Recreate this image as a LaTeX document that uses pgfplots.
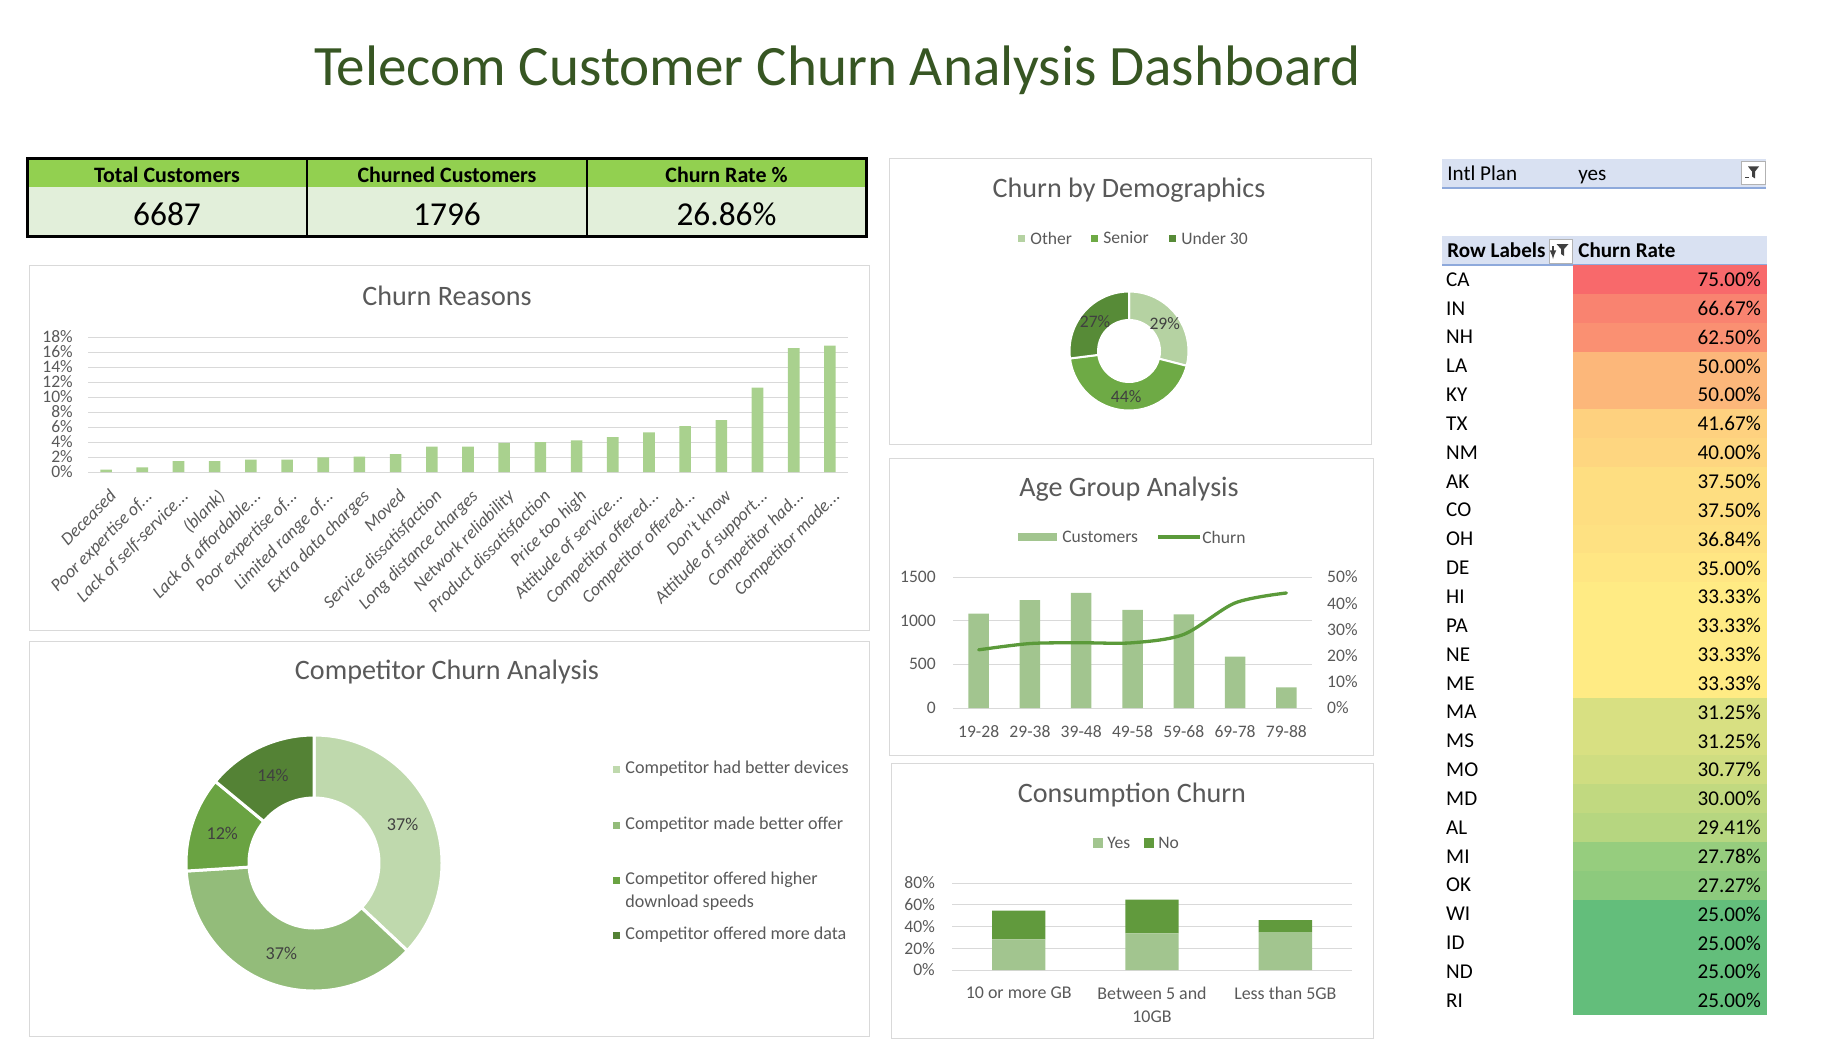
\documentclass[border=0pt]{standalone}
\usepackage{fontspec}
\setmainfont{Carlito}
\usepackage{pgfplots}
\usepackage{pgfplotstable}
\pgfplotsset{compat=1.18}
\pgfplotsset{/pgf/number format/assume math mode=true}

\newcommand{\fs}[1]{\fontsize{#1}{#1}\selectfont}
\newcommand{\dd}{.\kern0.02em.\kern0.02em.}

\definecolor{titlegreen}{HTML}{375623}
\definecolor{hdrgreen}{HTML}{92D050}
\definecolor{valgreen}{HTML}{E2EFDA}
\definecolor{panelborder}{HTML}{D9D9D9}
\definecolor{gridgray}{HTML}{D9D9D9}
\definecolor{txtgray}{HTML}{595959}
\definecolor{lblgray}{HTML}{404040}
\definecolor{barlight}{HTML}{A9D18E}
\definecolor{agebar}{HTML}{A2C58F}
\definecolor{ageline}{HTML}{5B9A3A}
\definecolor{consyes}{HTML}{A2C58F}
\definecolor{consno}{HTML}{619A3D}
\definecolor{compA}{HTML}{BFD9AD}
\definecolor{compB}{HTML}{93BC7A}
\definecolor{compC}{HTML}{6AA342}
\definecolor{compD}{HTML}{548235}
\definecolor{demoA}{HTML}{B5D2A2}
\definecolor{demoB}{HTML}{6EAA45}
\definecolor{demoC}{HTML}{578B37}
\definecolor{pivotblue}{HTML}{D9E1F2}
\definecolor{pivotline}{HTML}{8EA9DB}
\definecolor{heatred}{HTML}{F8696B}
\definecolor{heatyel}{HTML}{FFEB84}
\definecolor{heatgrn}{HTML}{63BE7B}

% ---------------- data ----------------
\pgfplotstableread{
idx value
0 0.31
1 0.62
2 1.46
3 1.46
4 1.64
5 1.64
6 1.95
7 2.04
8 2.39
9 3.37
10 3.37
11 3.90
12 3.99
13 4.21
14 4.65
15 5.27
16 6.12
17 6.91
18 11.26
19 16.53
20 16.84
}\reasons

\pgfplotstableread{
idx customers churn
0 1082 22.2
1 1234 24.6
2 1318 24.9
3 1124 24.9
4 1071 28.1
5 589 40.1
6 235 43.9
}\agedata

\pgfplotstableread{
idx yes no
0 28.1 26.6
1 33.6 31.1
2 34.8 11.0
}\consdata

\pgfplotstableread{
value col
37 compA
37 compB
12 compC
14 compD
}\compdata

\pgfplotstableread{
value col
29 demoA
44 demoB
27 demoC
}\demodata

\pgfplotstableread{
idx st rate lab
0 CA 75.00 75.00\%
1 IN 66.67 66.67\%
2 NH 62.50 62.50\%
3 LA 50.00 50.00\%
4 KY 50.00 50.00\%
5 TX 41.67 41.67\%
6 NM 40.00 40.00\%
7 AK 37.50 37.50\%
8 CO 37.50 37.50\%
9 OH 36.84 36.84\%
10 DE 35.00 35.00\%
11 HI 33.33 33.33\%
12 PA 33.33 33.33\%
13 NE 33.33 33.33\%
14 ME 33.33 33.33\%
15 MA 31.25 31.25\%
16 MS 31.25 31.25\%
17 MO 30.77 30.77\%
18 MD 30.00 30.00\%
19 AL 29.41 29.41\%
20 MI 27.78 27.78\%
21 OK 27.27 27.27\%
22 WI 25.00 25.00\%
23 ID 25.00 25.00\%
24 ND 25.00 25.00\%
25 RI 25.00 25.00\%
}\statedata

% heat colours (3-colour scale: green 25 / yellow 33.33 / red 75)
\pgfplotstablegetrowsof{\statedata}
\pgfmathtruncatemacro{\slast}{\pgfplotsretval-1}
\foreach \i in {0,...,\slast}{%
  \pgfplotstablegetelem{\i}{rate}\of{\statedata}%
  \pgfmathsetmacro{\rv}{\pgfplotsretval}%
  \pgfmathtruncatemacro{\hflag}{\rv>33.32 ? 1 : 0}%
  \ifnum\hflag=1
    \pgfmathtruncatemacro{\pp}{round(100*(\rv-33.33)/(75-33.33))}%
    \xglobal\colorlet{heat\i}{heatred!\pp!heatyel}%
  \else
    \pgfmathtruncatemacro{\pp}{round(100*(\rv-25)/(33.33-25))}%
    \xglobal\colorlet{heat\i}{heatyel!\pp!heatgrn}%
  \fi
}

% donut drawn from a table inside an axis
\newcommand{\drawdonut}[5]{%
  \pgfplotstablegetrowsof{#1}%
  \pgfmathtruncatemacro{\dlast}{\pgfplotsretval-1}%
  \gdef\dcum{0}%
  \begin{scope}[shift={(axis cs:0,0)}]
  \foreach \i in {0,...,\dlast}{%
    \pgfplotstablegetelem{\i}{value}\of{#1}\let\dval\pgfplotsretval
    \pgfplotstablegetelem{\i}{col}\of{#1}\let\dcol\pgfplotsretval
    \pgfmathsetmacro{\da}{90-3.6*\dcum}%
    \pgfmathsetmacro{\db}{90-3.6*(\dcum+\dval)}%
    \pgfmathsetmacro{\dm}{(\da+\db)/2}%
    \fill[fill=\dcol, draw=white, line width=#5] (\da:#2) arc[start angle=\da, end angle=\db, radius=#2] -- (\db:#3) arc[start angle=\db, end angle=\da, radius=#3] -- cycle;
    \node[font=#4, text=lblgray] at ({\dm}:{(#2+#3)/2}) {\dval\%};
    \pgfmathsetmacro{\dnew}{\dcum+\dval}\xdef\dcum{\dnew}%
  }%
  \end{scope}%
}

\begin{document}
\begin{tikzpicture}
\useasboundingbox (0,0) rectangle (36.44,-21.22);

% ---------- Title ----------
\node[anchor=base, text=titlegreen, font=\fs{32.5}] at (16.75,-1.72) {Telecom Customer Churn Analysis Dashboard};

% ---------- KPI table ----------
\fill[hdrgreen] (0.54,-3.18) rectangle (17.32,-3.74);
\fill[valgreen] (0.54,-3.74) rectangle (17.32,-4.72);
\draw[line width=0.04cm] (6.14,-3.18) -- (6.14,-4.72) (11.74,-3.18) -- (11.74,-4.72);
\draw[line width=0.06cm] (0.54,-3.18) rectangle (17.32,-4.72);
\node[font=\bfseries\fs{12.5}] at (3.34,-3.50) {Total Customers};
\node[font=\bfseries\fs{12.5}] at (8.94,-3.50) {Churned Customers};
\node[font=\bfseries\fs{12.5}] at (14.53,-3.50) {Churn Rate \%};
\node[font=\fs{19}] at (3.34,-4.28) {6687};
\node[font=\fs{19}] at (8.94,-4.28) {1796};
\node[font=\fs{19}] at (14.53,-4.28) {26.86\%};

% ---------- Churn Reasons ----------
\draw[panelborder, line width=0.02cm] (0.58,-5.30) rectangle (17.38,-12.60);
\node[font=\fs{16}, text=txtgray] at (8.94,-5.92) {Churn Reasons};
\begin{axis}[at={(1.76cm,-9.44cm)}, anchor=south west, scale only axis,
  width=15.2cm, height=2.70cm,
  xmin=-0.5, xmax=20.5, ymin=0, ymax=18,
  xtick={0,...,20},
  xticklabels={Deceased, Poor expertise of\dd, Lack of self-service\dd, (blank), Lack of affordable\dd, Poor expertise of\dd, Limited range of\dd, Extra data charges, Moved, Service dissatisfaction, Long distance charges, Network reliability, Product dissatisfaction, Price too high, Attitude of service\dd, Competitor offered\dd, Competitor offered\dd, Don't know, Attitude of support\dd, Competitor had\dd, Competitor made\dd},
  ytick={0,2,...,18},
  yticklabels={0\%,2\%,4\%,6\%,8\%,10\%,12\%,14\%,16\%,18\%},
  ymajorgrids, grid style={gridgray, line width=0.02cm},
  axis line style={draw=none}, major tick length=0pt,
  xticklabel style={rotate=45, anchor=north east, font=\itshape\fs{10.2}, text=txtgray, inner sep=1pt, yshift=-0.22cm, xshift=-0.16cm},
  yticklabel style={font=\fs{10}, text=txtgray, xshift=-0.18cm},
  clip=false]
\addplot[ybar, bar width=0.32, fill=barlight, draw=none] table[x=idx, y=value] {\reasons};
\end{axis}

% ---------- Competitor Churn Analysis ----------
\draw[panelborder, line width=0.02cm] (0.58,-12.82) rectangle (17.38,-20.72);
\node[font=\fs{16}, text=txtgray] at (8.94,-13.44) {Competitor Churn Analysis};
\begin{axis}[at={(6.28cm,-17.26cm)}, anchor=center, scale only axis, width=5.12cm, height=5.12cm,
  xmin=-1, xmax=1, ymin=-1, ymax=1, hide axis, clip=false]
\pgfplotsextra{\drawdonut{\compdata}{2.56cm}{1.30cm}{\fs{10.3}}{0.06cm}}
\end{axis}
\begin{scope}[every node/.style={anchor=west, font=\fs{10.3}, text=txtgray, inner sep=0pt}]
\fill[compA] (12.25,-15.45) rectangle (12.39,-15.31);
\node at (12.50,-15.38) {Competitor had better devices};
\fill[compB] (12.25,-16.57) rectangle (12.39,-16.43);
\node at (12.50,-16.50) {Competitor made better offer};
\fill[compC] (12.25,-17.67) rectangle (12.39,-17.53);
\node at (12.50,-17.60) {Competitor offered higher};
\node at (12.50,-18.06) {download speeds};
\fill[compD] (12.25,-18.77) rectangle (12.39,-18.63);
\node at (12.50,-18.70) {Competitor offered more data};
\end{scope}

% ---------- Churn by Demographics ----------
\draw[panelborder, line width=0.02cm] (17.78,-3.18) rectangle (27.42,-8.88);
\node[font=\fs{16}, text=txtgray] at (22.58,-3.80) {Churn by Demographics};
\begin{scope}[every node/.style={anchor=west, font=\fs{10}, text=txtgray, inner sep=0pt}]
\fill[demoA] (20.35,-4.83) rectangle (20.49,-4.69);
\node at (20.60,-4.76) {Other};
\fill[demoB] (21.81,-4.83) rectangle (21.95,-4.69);
\node at (22.06,-4.76) {Senior};
\fill[demoC] (23.37,-4.83) rectangle (23.51,-4.69);
\node at (23.62,-4.76) {Under 30};
\end{scope}
\begin{axis}[at={(22.58cm,-7.02cm)}, anchor=center, scale only axis, width=2.38cm, height=2.38cm,
  xmin=-1, xmax=1, ymin=-1, ymax=1, hide axis, clip=false]
\pgfplotsextra{\drawdonut{\demodata}{1.19cm}{0.62cm}{\fs{10}}{0.04cm}}
\end{axis}

% ---------- Age Group Analysis ----------
\draw[panelborder, line width=0.02cm] (17.78,-9.16) rectangle (27.46,-15.10);
\node[font=\fs{16}, text=txtgray] at (22.58,-9.78) {Age Group Analysis};
\fill[agebar] (20.36,-10.82) rectangle (21.14,-10.66);
\node[anchor=west, font=\fs{10}, text=txtgray, inner sep=0pt] at (21.24,-10.74) {Customers};
\draw[ageline, line width=0.066cm] (23.16,-10.74) -- (24.0,-10.74);
\node[anchor=west, font=\fs{10}, text=txtgray, inner sep=0pt] at (24.04,-10.74) {Churn};
\begin{axis}[at={(19.06cm,-14.16cm)}, anchor=south west, scale only axis,
  width=7.18cm, height=2.62cm,
  xmin=-0.5, xmax=6.5, ymin=0, ymax=1500,
  xtick={0,...,6}, xticklabels={19-28,29-38,39-48,49-58,59-68,69-78,79-88},
  ytick={0,500,1000,1500}, yticklabels={0,500,1000,1500},
  ymajorgrids, grid style={gridgray, line width=0.02cm},
  axis line style={draw=none}, major tick length=0pt,
  xticklabel style={font=\fs{10}, text=txtgray, yshift=-0.22cm},
  yticklabel style={font=\fs{10}, text=txtgray, xshift=-0.22cm},
  clip=false]
\addplot[ybar, bar width=0.4, fill=agebar, draw=none] table[x=idx, y=customers] {\agedata};
\end{axis}
\begin{axis}[at={(19.06cm,-14.16cm)}, anchor=south west, scale only axis,
  width=7.18cm, height=2.62cm,
  xmin=-0.5, xmax=6.5, ymin=0, ymax=50,
  axis y line*=right, axis x line=none,
  ytick={0,10,...,50}, yticklabels={0\%,10\%,20\%,30\%,40\%,50\%},
  axis line style={draw=none}, major tick length=0pt,
  yticklabel style={font=\fs{10}, text=txtgray, xshift=0.18cm},
  clip=false]
\addplot[ageline, line width=0.066cm, smooth, mark=none, line cap=round] table[x=idx, y=churn] {\agedata};
\end{axis}

% ---------- Consumption Churn ----------
\draw[panelborder, line width=0.02cm] (17.82,-15.26) rectangle (27.46,-20.76);
\node[font=\fs{16}, text=txtgray] at (22.64,-15.90) {Consumption Churn};
\fill[consyes] (21.86,-16.96) rectangle (22.06,-16.76);
\node[anchor=west, font=\fs{10}, text=txtgray, inner sep=0pt] at (22.14,-16.86) {Yes};
\fill[consno] (22.87,-16.96) rectangle (23.07,-16.76);
\node[anchor=west, font=\fs{10}, text=txtgray, inner sep=0pt] at (23.16,-16.86) {No};
\begin{axis}[at={(19.04cm,-19.40cm)}, anchor=south west, scale only axis,
  width=8.0cm, height=1.74cm,
  xmin=-0.5, xmax=2.5, ymin=0, ymax=80,
  ybar stacked, bar width=0.4,
  xtick={0,1,2}, xticklabels={10 or more GB, {Between 5 and\\10GB}, Less than 5GB},
  ytick={0,20,...,80}, yticklabels={0\%,20\%,40\%,60\%,80\%},
  ymajorgrids, grid style={gridgray, line width=0.02cm},
  axis line style={draw=none}, major tick length=0pt,
  xticklabel style={font=\fontsize{10.2}{13}\selectfont, align=center, text=txtgray, yshift=-0.21cm},
  yticklabel style={font=\fs{10}, text=txtgray, xshift=-0.22cm},
  clip=false]
\addplot[fill=consyes, draw=none] table[x=idx, y=yes] {\consdata};
\addplot[fill=consno, draw=none] table[x=idx, y=no] {\consdata};
\end{axis}

% ---------- Pivot table ----------
\fill[pivotblue] (28.84,-3.18) rectangle (35.32,-3.76);
\draw[pivotline, line width=0.03cm] (28.84,-3.76) -- (35.32,-3.76);
\node[anchor=base west, font=\fs{12}, inner sep=0pt] at (28.94,-3.60) {Intl Plan};
\node[anchor=base west, font=\fs{12}, inner sep=0pt] at (31.56,-3.60) {yes};
\draw[gray!60, fill=white, line width=0.02cm] (34.82,-3.24) rectangle (35.30,-3.70);
\fill[lblgray] (34.96,-3.33) -- (35.18,-3.33) -- (35.10,-3.43) -- (35.10,-3.57) -- (35.04,-3.53) -- (35.04,-3.43) -- cycle;
\draw[lblgray, line width=0.02cm] (34.90,-3.56) -- (34.98,-3.56);

\fill[pivotblue] (28.84,-4.72) rectangle (35.34,-5.30);
\draw[pivotline, line width=0.03cm] (28.84,-5.30) -- (35.34,-5.30);
\node[anchor=base west, font=\bfseries\fs{12}, inner sep=0pt] at (28.94,-5.14) {Row Labels};
\node[anchor=base west, font=\bfseries\fs{12}, inner sep=0pt] at (31.56,-5.14) {Churn Rate};
\draw[gray!60, fill=white, line width=0.02cm] (30.98,-4.78) rectangle (31.45,-5.26);
\fill[lblgray] (31.13,-4.88) -- (31.37,-4.88) -- (31.28,-4.98) -- (31.28,-5.12) -- (31.22,-5.08) -- (31.22,-4.98) -- cycle;
\draw[lblgray, line width=0.025cm, -latex] (31.06,-4.92) -- (31.06,-5.18);

\begin{axis}[at={(31.46cm,-5.30cm)}, anchor=north west, scale only axis,
  width=3.88cm, height=15.0cm,
  xmin=0, xmax=1, ymin=-0.5, ymax=25.5, y dir=reverse,
  axis line style={draw=none}, major tick length=0pt, xtick=\empty,
  ytick={0,...,25}, yticklabels from table={\statedata}{st},
  yticklabel style={anchor=west, xshift=-2.66cm, font=\fs{12}, text=black},
  clip=false]
\pgfplotsinvokeforeach{0,...,25}{%
  \addplot[xbar, bar width=1, bar shift=0pt, fill=heat#1, draw=none] coordinates {(1,#1)};
}
\end{axis}
\begin{axis}[at={(31.46cm,-5.30cm)}, anchor=north west, scale only axis,
  width=3.88cm, height=15.0cm,
  xmin=0, xmax=1, ymin=-0.5, ymax=25.5, y dir=reverse,
  axis line style={draw=none}, major tick length=0pt, xtick=\empty,
  yticklabel pos=right,
  ytick={0,...,25}, yticklabels from table={\statedata}{lab},
  yticklabel style={anchor=east, font=\fs{12}, text=black},
  clip=false]
\addplot[draw=none, mark=none] coordinates {(0,0) (1,25)};
\end{axis}

\end{tikzpicture}
\end{document}
